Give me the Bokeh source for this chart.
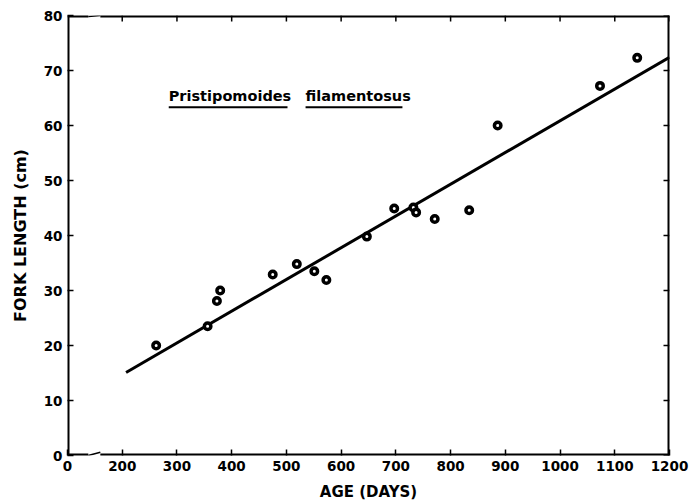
from bokeh.plotting import figure
from bokeh.models import FixedTicker, Label, Range1d
from bokeh.embed import file_html
from bokeh.resources import INLINE

# ---- data ----
age_days = [262, 356, 373, 379, 475, 519, 551, 573, 647, 697, 732, 737, 771, 834, 886, 1073, 1141]
fork_length_cm = [20.0, 23.5, 28.1, 30.0, 32.9, 34.8, 33.5, 31.9, 39.8, 44.9, 45.1, 44.2, 43.0, 44.6, 60.0, 67.2, 72.3]
fit_age = [207, 1200]
fit_length = [15.1, 72.4]
x_ticks = [100, 200, 300, 400, 500, 600, 700, 800, 900, 1000, 1100, 1200]
x_tick_labels = ["0", "200", "300", "400", "500", "600", "700", "800", "900", "1000", "1100", "1200"]
y_ticks = [0, 10, 20, 30, 40, 50, 60, 70, 80]
species = ["Pristipomoides", "filamentosus"]

FONT = "DejaVu Sans"
X0, X1, Y0, Y1 = 100, 1200, 0, 80
BREAK_A, BREAK_B = 138, 160   # axis-break gap (in axis units)

p = figure(frame_width=602, frame_height=440,
           x_range=Range1d(X0, X1), y_range=Range1d(Y0, Y1),
           output_backend="svg", toolbar_location=None,
           min_border_left=67, min_border_right=21, min_border_top=15, min_border_bottom=49,
           background_fill_color="white", border_fill_color="white")
p.grid.visible = False
p.outline_line_color = None

def style_axis(ax):
    ax.axis_line_color = None
    ax.major_tick_in = 6
    ax.major_tick_out = 0
    ax.major_tick_line_width = 1.5
    ax.major_tick_line_color = "black"
    ax.minor_tick_line_color = None
    ax.major_label_text_font = FONT
    ax.major_label_text_font_style = "bold"
    ax.major_label_text_font_size = "13.5px"
    ax.major_label_text_color = "black"
    ax.axis_label_text_font = FONT
    ax.axis_label_text_font_style = "bold"
    ax.axis_label_text_color = "black"

xa = p.xaxis[0]
xa.ticker = FixedTicker(ticks=x_ticks)
xa.major_label_overrides = {t: s for t, s in zip(x_ticks, x_tick_labels)}
style_axis(xa)
xa.major_label_standoff = 5
xa.axis_label = "AGE (DAYS)"
xa.axis_label_text_font_size = "15px"
xa.axis_label_standoff = 9

ya = p.yaxis[0]
ya.ticker = FixedTicker(ticks=y_ticks)
style_axis(ya)
ya.major_label_standoff = 5
ya.axis_label = "FORK LENGTH (cm)"
ya.axis_label_text_font_size = "16px"
ya.axis_label_standoff = 11

# frame border (drawn inside the frame; half of a 4px line is clipped -> 2px)
BW = 4
p.line([X0, X0], [Y0, Y1], line_color="black", line_width=BW)
p.line([X1, X1], [Y0, Y1], line_color="black", line_width=BW)
for yb in (Y0, Y1):
    p.line([X0, BREAK_A], [yb, yb], line_color="black", line_width=BW)
    p.line([BREAK_B, X1], [yb, yb], line_color="black", line_width=BW)
# zigzag of the axis break
p.line([BREAK_A, BREAK_B], [Y0, Y0 + 0.6], line_color="black", line_width=1.5)
p.line([BREAK_A, BREAK_B], [Y1 - 0.2, Y1], line_color="black", line_width=1.5)

# inward ticks on top and right borders
tick_dx = 6 / 0.547
tick_dy = 6 / 5.5
p.segment(x0=x_ticks[1:], y0=[Y1] * len(x_ticks[1:]), x1=x_ticks[1:],
          y1=[Y1 - tick_dy] * len(x_ticks[1:]), line_color="black", line_width=1.5)
p.segment(x0=[X1] * len(y_ticks), y0=y_ticks, x1=[X1 - tick_dx] * len(y_ticks),
          y1=y_ticks, line_color="black", line_width=1.5)

# regression line
p.line(fit_age, fit_length, line_color="black", line_width=3)

# data points
p.scatter(age_days, fork_length_cm, marker="circle", size=6.5, fill_color="white",
          line_color="black", line_width=3.5)

# species label with underlines
p.add_layout(Label(x=285, y=65.3, text=species[0], text_baseline="middle",
                   text_font=FONT, text_font_style="bold", text_font_size="14.5px",
                   text_color="black"))
p.add_layout(Label(x=535, y=65.3, text=species[1], text_baseline="middle",
                   text_font=FONT, text_font_style="bold", text_font_size="14.5px",
                   text_color="black"))
p.line([285, 502], [63.3, 63.3], line_color="black", line_width=2)
p.line([535, 712], [63.3, 63.3], line_color="black", line_width=2)

open("out.html", "w").write(file_html(p, INLINE))
